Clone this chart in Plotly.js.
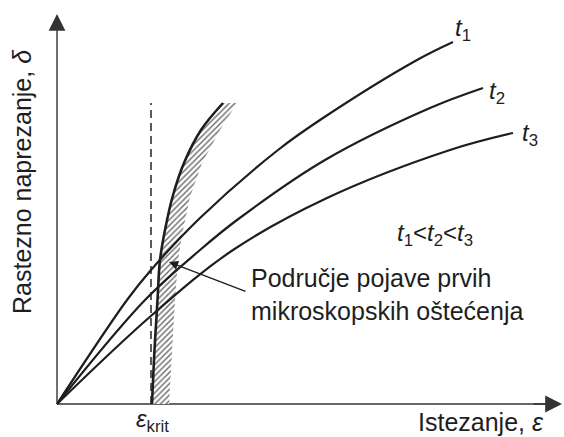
<!DOCTYPE html>
<html>
<head>
<meta charset="utf-8">
<script src="https://cdn.plot.ly/plotly-3.0.1.min.js"></script>
<style>html,body{margin:0;padding:0;background:#fff;}#chart{width:564px;height:437px;}</style>
</head>
<body>
<div id="chart"></div>
<script>
// Curves (strain ε, stress δ), arbitrary units
const t1X = [0, 1.4, 1.88, 2.86, 4.42, 5.26, 7.2, 7.92];
const t1Y = [0, 2.08, 2.68, 3.72, 5.08, 5.68, 6.88, 7.24];
const t2X = [0, 1.76, 2.86, 3.6, 5.36, 7.46, 8.52];
const t2Y = [0, 2.08, 3.08, 3.68, 4.88, 5.92, 6.32];
const t3X = [0, 1.9, 3.52, 5.4, 7.86, 9.12];
const t3Y = [0, 1.78, 3.08, 4.12, 5.08, 5.42];
// boundary of the micro-damage region (left edge) and hatched band right edge
const bandY = [0, 1.08, 2.08, 2.88, 3.48, 4.14, 4.82, 5.48, 6.02];
const bandLeftX = [1.9, 1.95, 2.01, 2.06, 2.16, 2.31, 2.54, 2.88, 3.32];
const bandRightX = [2.24, 2.3, 2.36, 2.42, 2.52, 2.66, 2.9, 3.26, 3.6];
const epsKrit = 1.88;
const dashTop = 6.02;
const xMax = 10.1, yMax = 7.8;

const ink = '#1e1e1e';
const fontFam = '"Liberation Sans", Arial, sans-serif';

const polyX = bandLeftX.concat(bandRightX.slice().reverse());
const polyY = bandY.concat(bandY.slice().reverse());

const traces = [
  {x: polyX, y: polyY, mode: 'lines', fill: 'toself', line: {width: 0, color: 'rgba(0,0,0,0)'},
   fillcolor: '#ffffff',
   fillpattern: {shape: '/', fgcolor: '#6a6a6a', bgcolor: '#ffffff', size: 4, solidity: 0.35},
   hoverinfo: 'skip'},
  {x: [epsKrit, epsKrit], y: [0, dashTop], mode: 'lines', line: {color: '#333', width: 1.6, dash: '8px,5px'}},
  {x: bandLeftX, y: bandY, mode: 'lines', line: {color: ink, width: 2.6, shape: 'spline', smoothing: 1}},
  {x: t1X, y: t1Y, mode: 'lines', line: {color: ink, width: 2.2, shape: 'spline'}},
  {x: t2X, y: t2Y, mode: 'lines', line: {color: ink, width: 2.2, shape: 'spline'}},
  {x: t3X, y: t3Y, mode: 'lines', line: {color: ink, width: 2.2, shape: 'spline'}}
];

function px2paperX(p){ return (p - 52) / 512; }
function px2paperY(p){ return (409 - p) / 400; }

const txtFont = {family: fontFam, size: 25, color: ink};
const labFont = {family: fontFam, size: 24, color: ink};

const annotations = [
  // y axis arrow
  {x: 0, y: yMax, ax: 0, ay: 0, xref: 'x', yref: 'y', axref: 'x', ayref: 'y', text: '', showarrow: true,
   arrowhead: 2, arrowsize: 2.4, arrowwidth: 1.4, arrowcolor: '#333'},
  // x axis arrow head
  {x: xMax, y: 0, ax: xMax - 0.6, ay: 0, xref: 'x', yref: 'y', axref: 'x', ayref: 'y', text: '', showarrow: true,
   arrowhead: 2, arrowsize: 2.4, arrowwidth: 1.4, arrowcolor: '#333'},
  // pointer arrow
  {x: 2.24, y: 2.84, ax: 78, ay: 30, xref: 'x', yref: 'y', text: '', showarrow: true,
   arrowhead: 2, arrowsize: 1.3, arrowwidth: 1.4, arrowcolor: ink},
  {text: 'Rastezno naprezanje, <i>δ</i>', textangle: -90, xref: 'paper', yref: 'paper',
   x: px2paperX(22), y: px2paperY(182), xanchor: 'center', yanchor: 'middle', showarrow: false, font: txtFont},
  {text: 'Istezanje, <i>ε</i>', xref: 'paper', yref: 'paper', x: px2paperX(546), y: px2paperY(422),
   xanchor: 'right', yanchor: 'middle', showarrow: false, font: txtFont},
  {text: '<i>ε</i><sub>krit</sub>', xref: 'paper', yref: 'paper', x: px2paperX(152), y: px2paperY(420),
   xanchor: 'center', yanchor: 'middle', showarrow: false, font: labFont},
  {text: '<i>t</i><sub>1</sub>', xref: 'paper', yref: 'paper', x: px2paperX(463), y: px2paperY(30),
   xanchor: 'center', yanchor: 'middle', showarrow: false, font: labFont},
  {text: '<i>t</i><sub>2</sub>', xref: 'paper', yref: 'paper', x: px2paperX(497), y: px2paperY(92),
   xanchor: 'center', yanchor: 'middle', showarrow: false, font: labFont},
  {text: '<i>t</i><sub>3</sub>', xref: 'paper', yref: 'paper', x: px2paperX(530), y: px2paperY(135),
   xanchor: 'center', yanchor: 'middle', showarrow: false, font: labFont},
  {text: '<i>t</i><sub>1</sub><<i>t</i><sub>2</sub><<i>t</i><sub>3</sub>', xref: 'paper', yref: 'paper',
   x: px2paperX(435), y: px2paperY(235), xanchor: 'center', yanchor: 'middle', showarrow: false, font: labFont},
  {text: 'Područje pojave prvih<br>mikroskopskih oštećenja', xref: 'paper', yref: 'paper', align: 'left',
   x: px2paperX(249), y: px2paperY(294), xanchor: 'left', yanchor: 'middle', showarrow: false, font: txtFont}
];

const shapes = [
  {type: 'line', layer: 'below', xref: 'x', yref: 'y', x0: 0, y0: 0, x1: xMax - 0.3, y1: 0,
   line: {color: '#333', width: 1.6}}
];

const layout = {
  width: 564, height: 437,
  margin: {l: 52, r: 0, t: 9, b: 28, pad: 0},
  paper_bgcolor: '#ffffff', plot_bgcolor: '#ffffff',
  showlegend: false,
  xaxis: {range: [-0.1, 10.14], visible: false, fixedrange: true},
  yaxis: {range: [-0.1, 7.9], visible: false, fixedrange: true},
  annotations: annotations,
  shapes: shapes
};

Plotly.newPlot('chart', traces, layout, {staticPlot: true, displayModeBar: false});
</script>
</body>
</html>
